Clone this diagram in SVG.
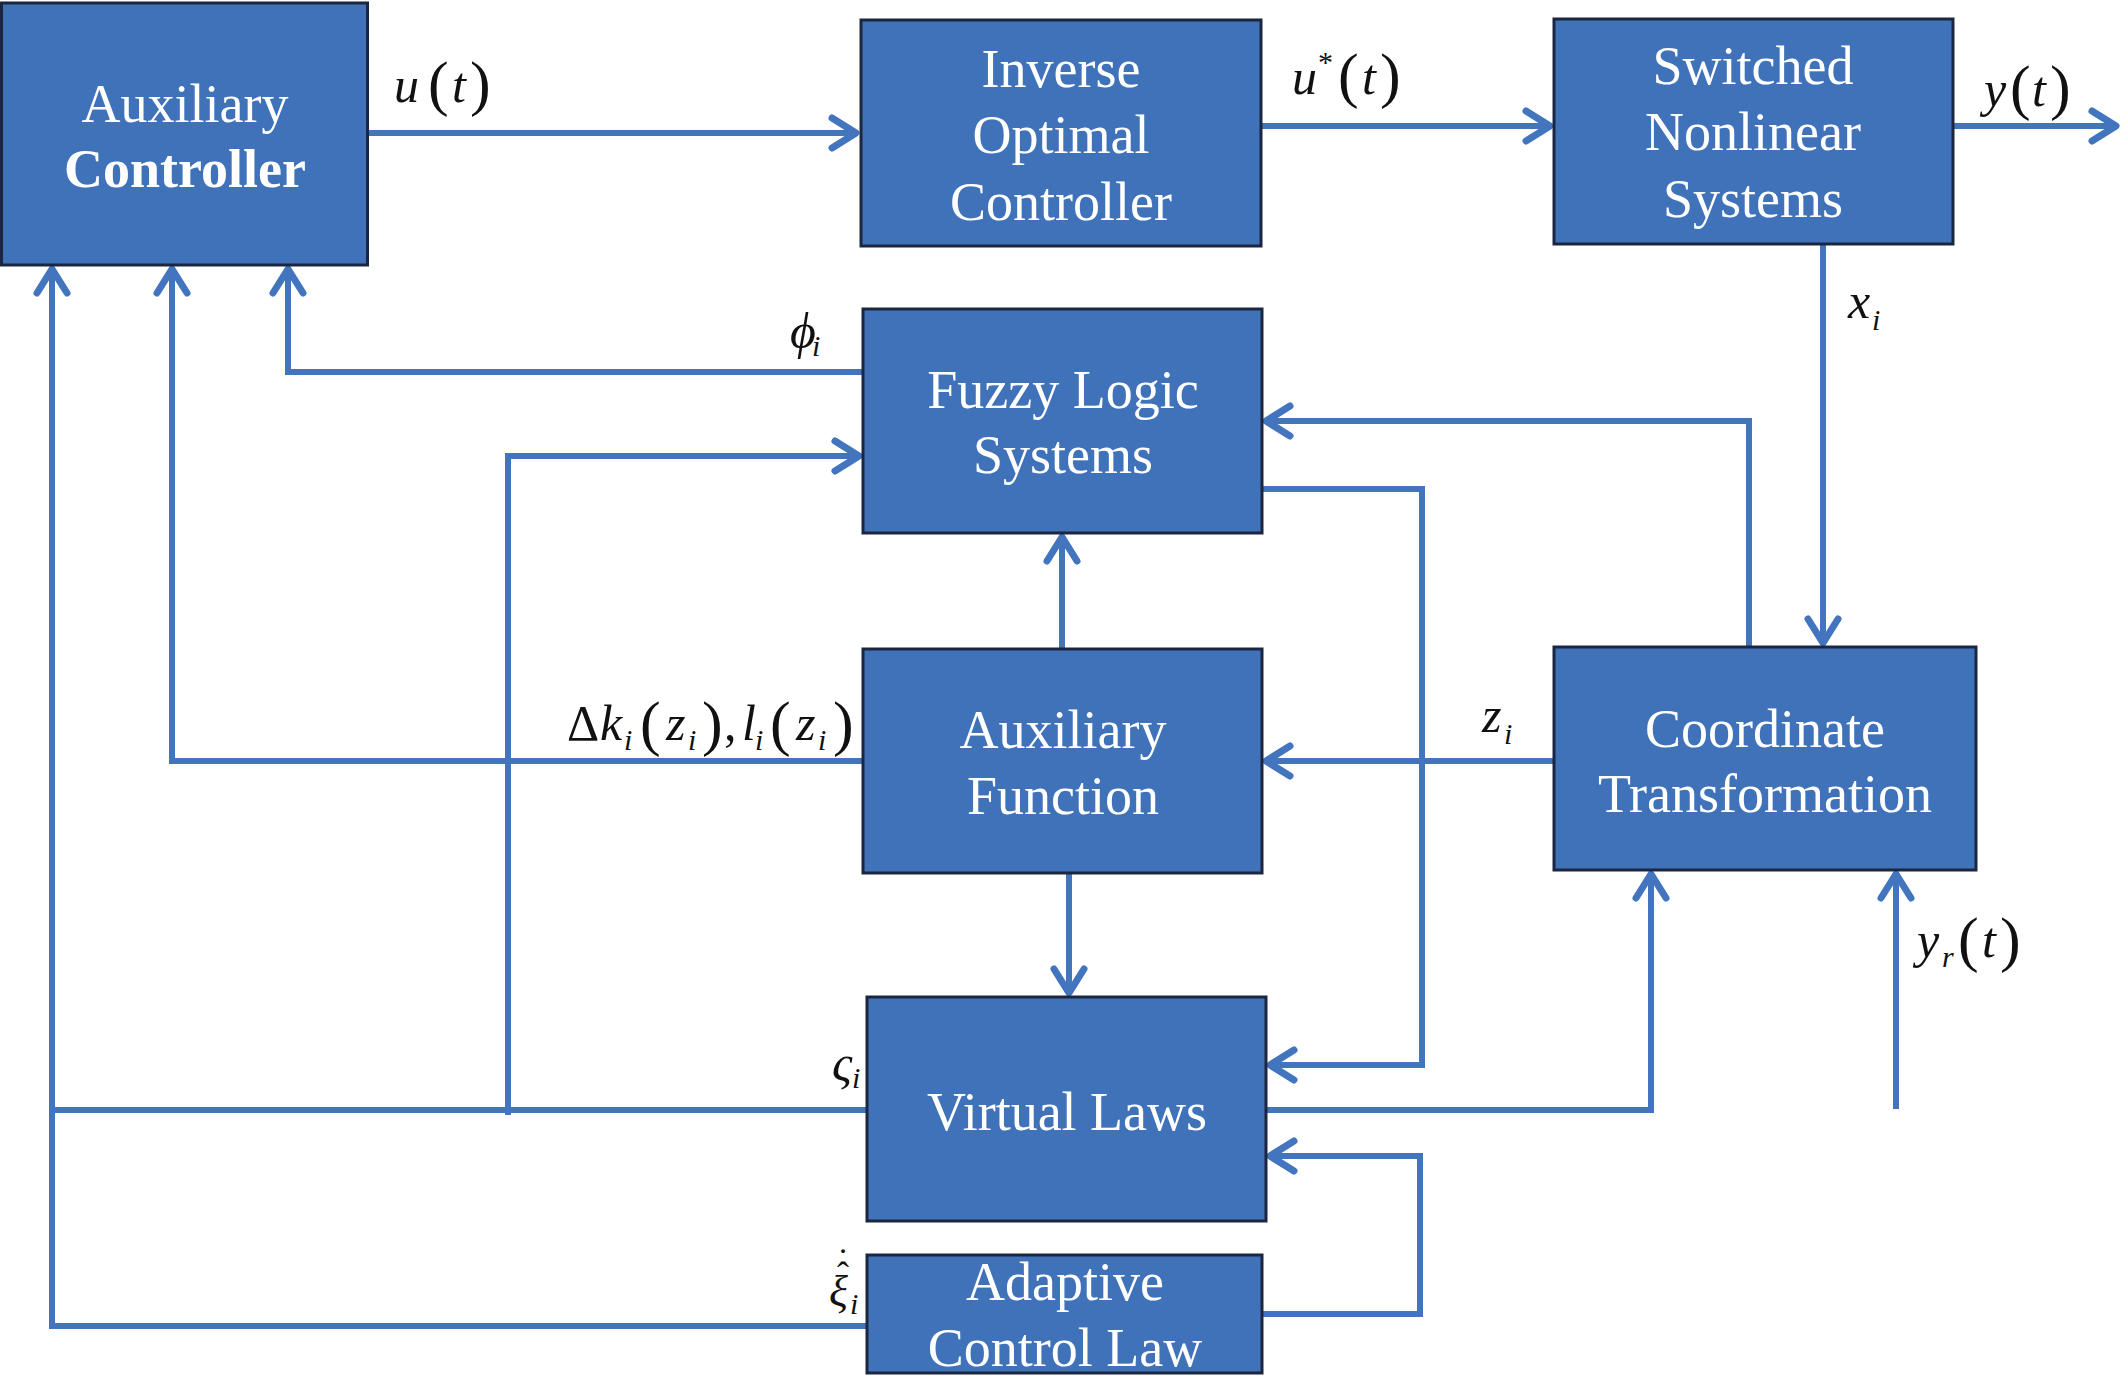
<svg xmlns="http://www.w3.org/2000/svg" width="2128" height="1376" viewBox="0 0 2128 1376">
<style>
.box{fill:#4072B9;stroke:#1B2640;stroke-width:3}
.bt{font-family:"Liberation Serif","Times New Roman",serif;font-size:54px;fill:#ffffff;text-anchor:middle}
.bold{font-weight:bold}
.wire{fill:none;stroke:#4375BF;stroke-width:6;stroke-linejoin:miter}
.arr{marker-end:url(#ah)}
.lb{font-family:"Liberation Serif","Times New Roman",serif;font-size:50px;fill:#111111}
.it{font-style:italic}
.sub{font-size:30px;font-style:italic}
.par{font-size:62px;font-style:normal}
</style>
<defs>
<marker id="ah" markerUnits="userSpaceOnUse" markerWidth="40" markerHeight="40" viewBox="-36 -20 40 40" refX="0" refY="0" orient="auto" overflow="visible">
<path d="M-24,-15 L0,0 L-24,15" fill="none" stroke="#4375BF" stroke-width="7" stroke-linecap="round" stroke-linejoin="round"/>
</marker>
</defs>
<rect width="2128" height="1376" fill="#ffffff"/>

<g id="connectors">
<path class="wire arr" d="M368,133 H856"/>
<path class="wire arr" d="M1261,126 H1550"/>
<path class="wire arr" d="M1953,126 H2116"/>
<path class="wire arr" d="M1823,244 V643"/>
<path class="wire arr" d="M1749,647 V421 H1266"/>
<path class="wire arr" d="M1262,489 H1422 V1065 H1270"/>
<path class="wire arr" d="M1554,761 H1266"/>
<path class="wire arr" d="M1062,649 V537"/>
<path class="wire arr" d="M1069,873 V993"/>
<path class="wire arr" d="M863,761 H172 V269"/>
<path class="wire arr" d="M863,372 H288 V269"/>
<path class="wire" d="M867,1110 H52"/>
<path class="wire arr" d="M867,1326 H52 V269"/>
<path class="wire arr" d="M508,1115 V456 H859"/>
<path class="wire arr" d="M1266,1110 H1651 V874"/>
<path class="wire arr" d="M1896,1109 V874"/>
<path class="wire arr" d="M1262,1314 H1420 V1156 H1270"/>
</g>

<g id="auxiliary-controller">
<rect class="box" x="1.5" y="3" width="366" height="262"/>
<text class="bt" x="185" y="122">Auxiliary</text>
<text class="bt bold" x="185" y="187">Controller</text>
</g>
<g id="inverse-optimal-controller">
<rect class="box" x="861" y="20" width="400" height="226"/>
<text class="bt" x="1061" y="87">Inverse</text>
<text class="bt" x="1061" y="153">Optimal</text>
<text class="bt" x="1061" y="220">Controller</text>
</g>
<g id="switched-nonlinear-systems">
<rect class="box" x="1554" y="19" width="399" height="225"/>
<text class="bt" x="1753" y="84">Switched</text>
<text class="bt" x="1753" y="150">Nonlinear</text>
<text class="bt" x="1753" y="217">Systems</text>
</g>
<g id="fuzzy-logic-systems">
<rect class="box" x="863" y="309" width="399" height="224"/>
<text class="bt" x="1063" y="408">Fuzzy Logic</text>
<text class="bt" x="1063" y="473">Systems</text>
</g>
<g id="auxiliary-function">
<rect class="box" x="863" y="649" width="399" height="224"/>
<text class="bt" x="1063" y="748">Auxiliary</text>
<text class="bt" x="1063" y="814">Function</text>
</g>
<g id="coordinate-transformation">
<rect class="box" x="1554" y="647" width="422" height="223"/>
<text class="bt" x="1765" y="747">Coordinate</text>
<text class="bt" x="1765" y="812">Transformation</text>
</g>
<g id="virtual-laws">
<rect class="box" x="867" y="997" width="399" height="224"/>
<text class="bt" x="1067" y="1130">Virtual Laws</text>
</g>
<g id="adaptive-control-law">
<rect class="box" x="867" y="1255" width="395" height="118"/>
<text class="bt" x="1065" y="1300">Adaptive</text>
<text class="bt" x="1065" y="1366">Control Law</text>
</g>

<g id="labels">
<text class="lb" y="102"><tspan class="it" x="394">u</tspan><tspan class="par" x="428" y="104">(</tspan><tspan class="it" x="452" y="102">t</tspan><tspan class="par" x="470" y="104">)</tspan></text>
<text class="lb" y="94"><tspan class="it" x="1292">u</tspan><tspan font-size="30" x="1318" y="72">*</tspan><tspan class="par" x="1338" y="96">(</tspan><tspan class="it" x="1362" y="94">t</tspan><tspan class="par" x="1380" y="96">)</tspan></text>
<text class="lb" y="106"><tspan class="it" x="1984">y</tspan><tspan class="par" x="2010" y="108">(</tspan><tspan class="it" x="2032" y="106">t</tspan><tspan class="par" x="2050" y="108">)</tspan></text>
<text class="lb" y="318"><tspan class="it" x="1848">x</tspan><tspan class="sub" x="1872" y="330">i</tspan></text>
<text class="lb" y="348"><tspan class="it" x="790">ϕ</tspan><tspan class="sub" x="812" y="356">i</tspan></text>
<text class="lb" y="740"><tspan x="567">Δ</tspan><tspan class="it" x="600">k</tspan><tspan class="sub" x="624" y="750">i</tspan><tspan class="par" x="640" y="744">(</tspan><tspan class="it" x="666" y="740">z</tspan><tspan class="sub" x="688" y="750">i</tspan><tspan class="par" x="702" y="744">)</tspan><tspan x="724" y="740">,</tspan><tspan class="it" x="742" y="740">l</tspan><tspan class="sub" x="755" y="750">i</tspan><tspan class="par" x="770" y="744">(</tspan><tspan class="it" x="796" y="740">z</tspan><tspan class="sub" x="818" y="750">i</tspan><tspan class="par" x="833" y="744">)</tspan></text>
<text class="lb" y="732"><tspan class="it" x="1482">z</tspan><tspan class="sub" x="1504" y="744">i</tspan></text>
<text class="lb" y="957"><tspan class="it" x="1917">y</tspan><tspan class="sub" x="1942" y="967">r</tspan><tspan class="par" x="1958" y="960">(</tspan><tspan class="it" x="1982" y="957">t</tspan><tspan class="par" x="2000" y="960">)</tspan></text>
<text class="lb" y="1080"><tspan class="it" x="832">ς</tspan><tspan class="sub" x="852" y="1088">i</tspan></text>
<text class="lb" y="1306"><tspan class="it" x="829" font-size="44">ξ</tspan><tspan class="sub" x="850" y="1314">i</tspan><tspan font-size="36" x="837" y="1287">ˆ</tspan><tspan font-size="36" x="837" y="1273">˙</tspan></text>
</g>
</svg>
